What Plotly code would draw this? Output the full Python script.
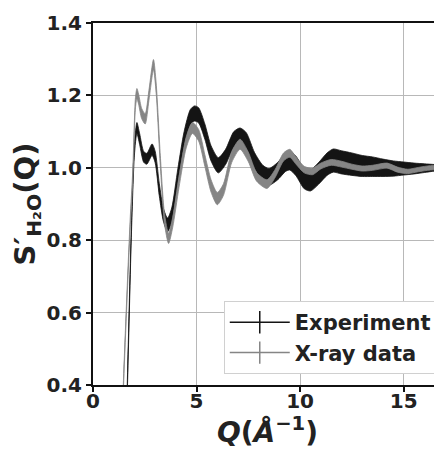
import numpy as np
import plotly.graph_objects as go

# Experiment: Q, S'(Q) and error half-width
exp_q = [1.50, 1.66, 1.86, 2.00, 2.12, 2.25, 2.45, 2.60, 2.85, 3.00, 3.20, 3.40, 3.60,
         3.80, 4.10, 4.40, 4.70, 4.90, 5.10, 5.40, 5.70, 6.05, 6.40, 6.80, 7.10, 7.40,
         7.80, 8.20, 8.50, 8.90, 9.30, 9.50, 9.80, 10.20, 10.50, 10.90, 11.30, 11.60,
         12.00, 12.50, 13.00, 13.50, 14.00, 14.50, 15.00, 15.50, 16.00, 16.50, 16.85]
exp_s = [0.05, 0.40, 0.84, 1.05, 1.11, 1.08, 1.03, 1.025, 1.05, 1.03, 0.94, 0.87, 0.842,
         0.87, 0.98, 1.08, 1.14, 1.15, 1.145, 1.10, 1.04, 1.007, 1.03, 1.078, 1.088, 1.075,
         1.02, 0.985, 0.975, 0.99, 1.015, 1.02, 1.005, 0.97, 0.965, 0.985, 1.01, 1.02,
         1.015, 1.01, 1.005, 1.003, 1.0, 0.998, 0.998, 0.998, 0.999, 1.0, 1.0]
exp_err = [0.015, 0.015, 0.015, 0.015, 0.015, 0.015, 0.015, 0.015, 0.016, 0.016, 0.017, 0.018, 0.019,
           0.019, 0.019, 0.02, 0.021, 0.021, 0.021, 0.021, 0.021, 0.021, 0.021, 0.022, 0.022, 0.022,
           0.022, 0.022, 0.023, 0.024, 0.025, 0.026, 0.027, 0.028, 0.029, 0.03, 0.031, 0.032,
           0.032, 0.031, 0.029, 0.027, 0.024, 0.021, 0.018, 0.015, 0.012, 0.009, 0.007]

# X-ray data
xr_q = [1.30, 1.47, 1.79, 1.92, 2.05, 2.12, 2.20, 2.35, 2.52, 2.70, 2.92, 3.05, 3.25,
        3.45, 3.65, 3.85, 4.15, 4.50, 4.80, 5.10, 5.40, 5.70, 6.00, 6.30, 6.70, 7.10,
        7.50, 7.90, 8.40, 8.80, 9.20, 9.50, 9.80, 10.20, 10.60, 11.00, 11.50, 12.00,
        12.50, 13.00, 13.50, 14.20, 14.70, 15.20, 15.70, 16.30, 16.85]
xr_s = [0.05, 0.40, 0.84, 0.98, 1.18, 1.205, 1.19, 1.15, 1.135, 1.20, 1.285, 1.22, 1.02,
        0.86, 0.805, 0.85, 0.96, 1.07, 1.11, 1.09, 1.02, 0.95, 0.915, 0.94, 1.03, 1.065,
        1.03, 0.975, 0.955, 0.985, 1.03, 1.04, 1.02, 0.995, 0.99, 1.005, 1.015, 1.01,
        1.003, 0.998, 1.0, 1.006, 0.995, 0.99, 0.995, 1.0, 1.0]
xr_err = [0.012, 0.012, 0.013, 0.014, 0.014, 0.014, 0.014, 0.014, 0.014, 0.014, 0.014, 0.014, 0.014,
          0.014, 0.014, 0.014, 0.015, 0.015, 0.015, 0.016, 0.016, 0.017, 0.017, 0.016, 0.015, 0.014,
          0.013, 0.012, 0.012, 0.011, 0.011, 0.011, 0.01, 0.009, 0.009, 0.008, 0.008, 0.008,
          0.007, 0.007, 0.007, 0.007, 0.007, 0.006, 0.006, 0.006, 0.005]

x_ticks = [0, 5, 10, 15]
y_ticks = [0.4, 0.6, 0.8, 1.0, 1.2, 1.4]

FONT = "DejaVu Sans"
BLACK = "#141414"
GREY = "#858585"


def band(fig, q, s, err, color):
    s = np.array(s)
    err = np.array(err)
    fig.add_trace(go.Scatter(x=q, y=s - err, mode="lines", showlegend=False,
                             line=dict(color=color, width=0.8, shape="spline", smoothing=0.7),
                             hoverinfo="skip"))
    fig.add_trace(go.Scatter(x=q, y=s + err, mode="lines", showlegend=False, fill="tonexty",
                             fillcolor=color,
                             line=dict(color=color, width=0.8, shape="spline", smoothing=0.7)))


fig = go.Figure()
band(fig, exp_q, exp_s, exp_err, BLACK)
band(fig, xr_q, xr_s, xr_err, GREY)

# legend entries styled like errorbar handles
for name, color in [("Experiment", BLACK), ("X-ray data", GREY)]:
    fig.add_trace(go.Scatter(x=[None], y=[None], mode="lines+markers", name=name,
                             line=dict(color=color, width=1.5),
                             marker=dict(symbol="line-ns", size=20, color=color,
                                         line=dict(color=color, width=1.5))))

axis_common = dict(
    showgrid=True, gridcolor="#b8b8b8", gridwidth=1,
    showline=True, linecolor="#111111", linewidth=2,
    ticks="outside", ticklen=5, tickwidth=1.5, tickcolor="#111111",
    tickfont=dict(family=FONT, size=20, color="#222222", weight="bold"),
    zeroline=False, automargin=False,
)

# page body has an 8px margin, so the figure is shrunk by that amount
fig.update_layout(
    width=434, height=441,
    margin=dict(l=85, r=0, t=15, b=64),
    paper_bgcolor="white", plot_bgcolor="white",
    showlegend=True,
    legend=dict(x=0.985, xanchor="right", y=0.03, yanchor="bottom",
                traceorder="normal",
                bgcolor="white", bordercolor="#d0d0d0", borderwidth=1,
                font=dict(family=FONT, size=21, color="#222222", weight="bold"),
                itemwidth=60, tracegroupgap=0),
    xaxis=dict(range=[0, 16.85], tickvals=x_ticks, mirror=True, ticklabelstandoff=-8,
               title=dict(text="<i>Q</i>(<i>Å</i><sup>−1</sup>)", standoff=14,
                          font=dict(family=FONT, size=28, color="#222222", weight="bold")),
               **axis_common),
    yaxis=dict(range=[0.4, 1.4], tickvals=y_ticks, tickformat=".1f",
               title=dict(text="S′<sub>H₂O</sub>(Q)", standoff=4,
                          font=dict(family=FONT, size=29, color="#222222", weight="bold")),
               **axis_common),
)

fig.write_html("out.html")
